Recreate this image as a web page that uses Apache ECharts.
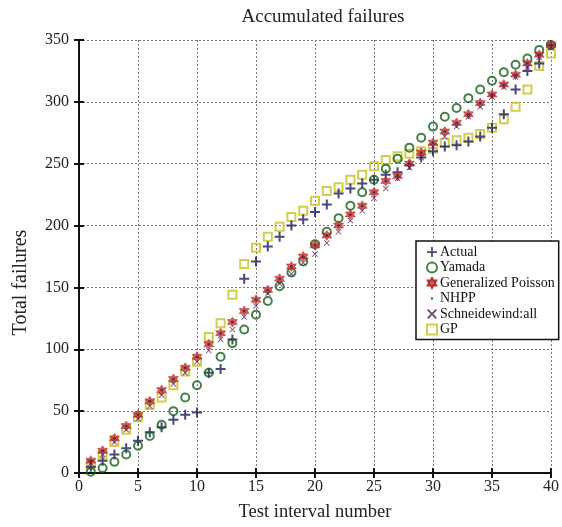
<!DOCTYPE html>
<html lang="en">
<head>
    <meta charset="UTF-8">
    <title>Accumulated failures</title>
    <script src="https://cdn.jsdelivr.net/npm/echarts@6/dist/echarts.min.js"></script>
    <style>
        html, body { margin: 0; padding: 0; background: #fff; }
        #main { width: 562px; height: 527px; }
    </style>
</head>
<body>
<div id="main"></div>
<script>
    // test interval 1..40
    var intervals = [];
    for (var i = 1; i <= 40; i++) intervals.push(i);

    var actual = [5, 10, 15, 20, 26, 33, 37, 43, 47, 49, 81, 84, 108, 157, 171, 183, 191, 200, 205, 211,
        217, 226, 230, 234, 237, 241, 243, 249, 255, 260, 264, 265, 268, 272, 279, 290, 310, 325, 331, 346];
    var yamada = [1, 4, 9, 15, 22, 30, 39, 50, 61, 71, 81, 94, 105, 116, 128, 139, 151, 162, 171, 185,
        195, 206, 216, 227, 237, 246, 254, 263, 271, 280, 288, 295, 303, 310, 317, 324, 330, 335, 342, 346];
    var genPoisson = [10, 18, 28, 38, 47, 58, 67, 76, 85, 94, 104, 113, 122, 131, 140, 148, 157, 167, 175, 184,
        192, 200, 209, 216, 227, 236, 240, 250, 259, 267, 276, 283, 290, 299, 306, 314, 322, 331, 338, 346];
    var nhpp = [10, 18, 28, 38, 47, 58, 67, 76, 85, 94, 104, 113, 122, 131, 140, 148, 157, 167, 175, 184,
        192, 200, 209, 216, 227, 236, 240, 250, 259, 267, 276, 283, 290, 299, 306, 314, 322, 331, 338, 346];
    var schneidewind = [8, 15, 25, 35, 44, 54, 63, 72, 81, 90, 99, 108, 116, 126, 135, 145, 153, 161, 170, 177,
        186, 195, 204, 212, 222, 230, 238, 247, 255, 264, 272, 280, 288, 296, 304, 312, 320, 328, 336, 344];
    var gp = [7, 15, 25, 35, 45, 55, 61, 71, 82, 90, 110, 121, 144, 169, 182, 191, 199, 207, 212, 220,
        228, 231, 237, 241, 248, 253, 256, 258, 260, 262, 267, 269, 271, 274, 279, 286, 296, 310, 329, 339];

    var xTicks = [0, 5, 10, 15, 20, 25, 30, 35, 40];
    var yTicks = [0, 50, 100, 150, 200, 250, 300, 350];

    function pairs(arr) {
        return arr.map(function (v, k) { return [intervals[k], v]; });
    }

    var serif = '"Liberation Serif", "DejaVu Serif", serif';
    var plusPath = 'path://M4,0H6V4H10V6H6V10H4V6H0V4H4Z';
    var thinPlus = 'path://M4.3,1H5.7V4.3H9V5.7H5.7V9H4.3V5.7H1V4.3H4.3Z';
    var crossPath = 'path://M0,1L1,0L5,4L9,0L10,1L6,5L10,9L9,10L5,6L1,10L0,9L4,5Z';
    var smallCross = 'path://M2,2.8L2.8,2L5,4.2L7.2,2L8,2.8L5.8,5L8,7.2L7.2,8L5,5.8L2.8,8L2,7.2L4.2,5Z';
    var starPath = 'path://M10,0L12.89,5L18.66,5L15.77,10L18.66,15L12.89,15L10,20L7.11,15L1.34,15L4.23,10L1.34,5L7.11,5Z';
    var dotIcon = 'path://M0,0L0.01,0M10,10L10.01,10M5,3.8A1.2,1.2,0,1,0,5,6.2A1.2,1.2,0,1,0,5,3.8Z';

    var gridLine = { show: true, lineStyle: { color: '#777', type: [2, 2], width: 1 } };

    var myChart = echarts.init(document.getElementById('main'));
    myChart.setOption({
        animation: false,
        backgroundColor: '#fff',
        title: {
            text: 'Accumulated failures',
            left: 318, top: 3, textAlign: 'center',
            textStyle: { fontFamily: serif, fontSize: 19, fontWeight: 'normal', color: '#222' }
        },
        legend: {
            left: 416, top: 241,
            orient: 'vertical',
            backgroundColor: '#fff',
            borderColor: '#111', borderWidth: 1.5,
            padding: [4, 4, 3, 10],
            itemGap: 1.5,
            itemWidth: 10, itemHeight: 10,
            textStyle: { fontFamily: serif, fontSize: 14, color: '#111', padding: [0, 0, 0, -2] },
            data: [
                { name: 'Actual', icon: thinPlus },
                { name: 'Yamada' },
                { name: 'Generalized Poisson' },
                { name: 'NHPP', icon: dotIcon },
                { name: 'Schneidewind:all', icon: smallCross },
                { name: 'GP' }
            ]
        },
        grid: { left: 79, right: 8, top: 40, bottom: 48 },
        xAxis: [{
            type: 'value', min: 0, max: 40, interval: 5,
            name: 'Test interval number', nameLocation: 'middle', nameGap: 30,
            nameTextStyle: { fontFamily: serif, fontSize: 18.5, color: '#222' },
            axisLine: { lineStyle: { color: '#111', width: 2 } },
            axisTick: { inside: true, length: 5, lineStyle: { color: '#111', width: 2 } },
            axisLabel: { fontFamily: serif, fontSize: 16, color: '#222', margin: 6 },
            splitLine: gridLine
        }, {
            type: 'value', min: 0, max: 40, interval: 5, position: 'top',
            axisLine: { lineStyle: { color: '#111', width: 2 } },
            axisTick: { inside: true, length: 5, lineStyle: { color: '#111', width: 2 } },
            axisLabel: { show: false },
            splitLine: { show: false }
        }],
        yAxis: [{
            type: 'value', min: 0, max: 350, interval: 50,
            name: 'Total failures', nameLocation: 'middle', nameGap: 48,
            nameTextStyle: { fontFamily: serif, fontSize: 20, color: '#222', padding: [0, 52, 0, 0] },
            axisLine: { show: true, lineStyle: { color: '#111', width: 2 } },
            axisTick: { show: true, inside: true, length: 5, lineStyle: { color: '#111', width: 2 } },
            axisLabel: { fontFamily: serif, fontSize: 16, color: '#222', margin: 10 },
            splitLine: gridLine
        }, {
            type: 'value', min: 0, max: 350, interval: 50, position: 'right',
            axisLine: { show: true, lineStyle: { color: '#111', width: 2 } },
            axisTick: { show: true, inside: true, length: 5, lineStyle: { color: '#111', width: 2 } },
            axisLabel: { show: false },
            splitLine: { show: false }
        }],
        series: [{
            name: 'GP', type: 'scatter', z: 2,
            symbol: 'rect', symbolSize: 8,
            itemStyle: { color: 'rgba(0,0,0,0)', borderColor: '#c8c020', borderWidth: 2 },
            data: pairs(gp)
        }, {
            name: 'Actual', type: 'scatter', z: 3,
            symbol: plusPath, symbolSize: 10,
            itemStyle: { color: '#1c1c5a' },
            data: pairs(actual)
        }, {
            name: 'Yamada', type: 'scatter', z: 4,
            symbol: 'circle', symbolSize: 8,
            itemStyle: { color: 'rgba(0,0,0,0)', borderColor: '#17601a', borderWidth: 2 },
            data: pairs(yamada)
        }, {
            name: 'Generalized Poisson', type: 'scatter', z: 5,
            symbol: starPath, symbolSize: 10,
            itemStyle: { color: '#d42a2a', borderColor: '#a01818', borderWidth: 0.5 },
            data: pairs(genPoisson)
        }, {
            name: 'Schneidewind:all', type: 'scatter', z: 6,
            symbol: crossPath, symbolSize: 6,
            itemStyle: { color: '#4a1a52' },
            data: pairs(schneidewind)
        }, {
            name: 'NHPP', type: 'scatter', z: 7,
            symbol: 'circle', symbolSize: 3,
            itemStyle: { color: '#1a3a4a' },
            data: pairs(nhpp)
        }]
    });
</script>
</body>
</html>
